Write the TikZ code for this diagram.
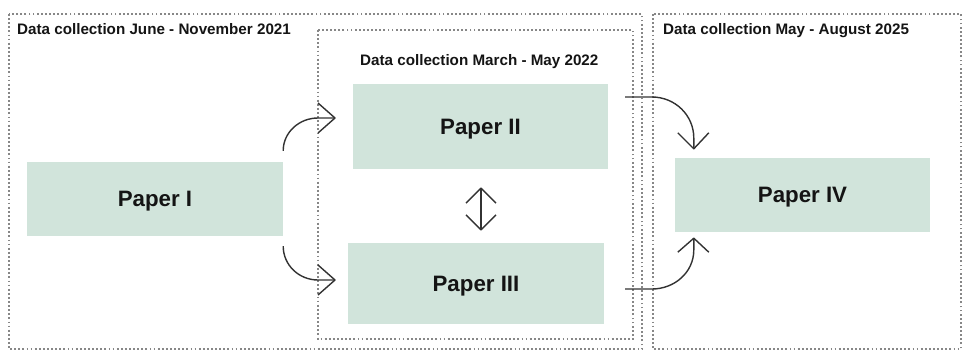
\documentclass[tikz,border=0pt]{standalone}
\usepackage{fontspec}
\setmainfont{Liberation Sans}
\usetikzlibrary{calc}
\definecolor{papergreen}{RGB}{209,228,219}
\definecolor{framegray}{RGB}{135,135,135}
\definecolor{arrowgray}{RGB}{50,50,50}
\tikzset{
  frame/.style={draw=framegray, line width=2pt, dash pattern=on 1.8pt off 2.3pt},
  paper/.style={fill=papergreen, draw=none, inner sep=0pt, text depth=0pt, font=\fontsize{22.3}{25}\selectfont\bfseries, text=black!92},
  title/.style={anchor=west, inner sep=0pt, text depth=0pt, font=\fontsize{15.2}{17}\selectfont\bfseries, text=black!92},
  conn/.style={draw=arrowgray, line width=1.4pt, line join=round},
}
% barb: #1 tip, #2 and #3 arm offsets
\newcommand{\mybarb}[3]{\draw[conn] ($(#1)+#2$) -- (#1) -- ($(#1)+#3$);}
\begin{document}
\begin{tikzpicture}[x=1pt,y=-1pt]
\useasboundingbox (0,0) rectangle (962,351);
% frames
\draw[frame] (9,14) rectangle (642,349);
\draw[frame] (318,30) rectangle (633,339);
\draw[frame] (653,14) rectangle (961,349);
% titles
\node[title] (t1) at (17,29) {Data collection June - November 2021};
\node[title] (t2) at (360,60) {Data collection March - May 2022};
\node[title] (t3) at (663,29) {Data collection May - August 2025};
% papers
\node[paper, minimum width=256pt, minimum height=74pt] (p1) at (155,199) {Paper I};
\node[paper, minimum width=255pt, minimum height=85pt] (p2) at (480.5,126.5) {Paper II};
\node[paper, minimum width=256pt, minimum height=81pt] (p3) at (476,283.5) {Paper III};
\node[paper, minimum width=255pt, minimum height=74pt] (p4) at (802.5,195) {Paper IV};
% connector endpoints
\coordinate (a1s) at ($(p1.north east)+(0,-11)$);
\coordinate (a1e) at (335,118);
\coordinate (a2s) at ($(p1.south east)+(0,10)$);
\coordinate (a2e) at (335,280);
\coordinate (a3s) at (625,97);
\coordinate (a3e) at ($(p4.north west)+(19,-9)$);
\coordinate (a4s) at (625,289);
\coordinate (a4e) at ($(p4.south west)+(19,6)$);
\coordinate (dtop) at ($(p2.south)+(0.5,19)$);
\coordinate (dbot) at ($(p3.north)+(5,-13)$);
% connectors
\draw[conn] (a1s) to[out=90,in=180] (318,118) -- (a1e);
\mybarb{a1e}{(-17,-15)}{(-17,15)}
\draw[conn] (a2s) to[out=-90,in=180] (318,280) -- (a2e);
\mybarb{a2e}{(-17,-15)}{(-17,15)}
\draw[conn] (a3s) -- (652,97) to[out=0,in=90] (a3e|-0,138) -- (a3e);
\mybarb{a3e}{(-16,-16)}{(15,-16)}
\draw[conn] (a4s) -- (652,289) to[out=0,in=-90] (a4e|-0,250) -- (a4e);
\mybarb{a4e}{(-16,14)}{(15,14)}
\draw[conn] (dtop) -- (dbot);
\mybarb{dtop}{(-15,15)}{(15,15)}
\mybarb{dbot}{(-15,-15)}{(15,-15)}
\end{tikzpicture}
\end{document}
